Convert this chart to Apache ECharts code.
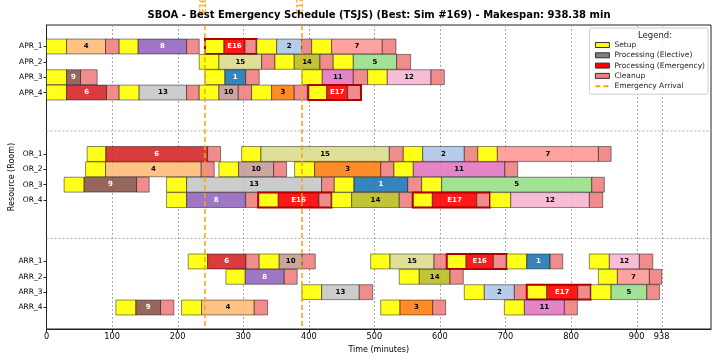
<!DOCTYPE html>
<html>
<head>
<meta charset="utf-8">
<title>SBOA - Best Emergency Schedule</title>
<script src="https://cdn.jsdelivr.net/npm/echarts@6/dist/echarts.min.js"></script>
<style>
  html, body { margin: 0; padding: 0; background: #fff; }
  #main { width: 715px; height: 357px; }
</style>
</head>
<body>
<div id="main"></div>
<script>
// rooms and the y value of each row (gaps between the stages)
const rooms = ['APR_1', 'APR_2', 'APR_3', 'APR_4', 'OR_1', 'OR_2', 'OR_3', 'OR_4', 'ARR_1', 'ARR_2', 'ARR_3', 'ARR_4']
const roomRows = [0, 1, 2, 3, 7, 8, 9, 10, 14, 15, 16, 17]
const stageBreaks = [5.5, 12.5]

const jobColors = {
  '1': '#1f77b4', '2': '#aec7e8', '3': '#ff7f0e', '4': '#ffbb78', '5': '#98df8a',
  '6': '#d62728', '7': '#ff9896', '8': '#9467bd', '9': '#8c564b', '10': '#c49c94',
  '11': '#e377c2', '12': '#f7b6d2', '13': '#c7c7c7', '14': '#bcbd22', '15': '#dbdb8d',
  'E16': '#ff0000', 'E17': '#ff0000'
}
const whiteText = ['1', '6', '8', '9', 'E16', 'E17']

// [room, job, setup start, processing start, cleanup start, end]
const aprOps = [
  ['APR_1', '4', 0, 30.6, 90.1, 110.8],
  ['APR_1', '8', 110.8, 139.8, 213.7, 232.9],
  ['APR_1', 'E16', 241.6, 270.6, 302.6, 320.5],
  ['APR_1', '2', 320.5, 351, 389.1, 404.4],
  ['APR_1', '7', 404.4, 434.9, 512.1, 533],
  ['APR_2', '15', 232.9, 262.9, 328.1, 348.4],
  ['APR_2', '14', 348.4, 377.8, 417, 437.3],
  ['APR_2', '5', 437.3, 467.9, 534.1, 555.4],
  ['APR_3', '9', 0, 30.6, 51.9, 77.3],
  ['APR_3', '1', 241.6, 272.1, 303.7, 324.4],
  ['APR_3', '11', 389.6, 420.6, 467.9, 489.8],
  ['APR_3', '12', 489.8, 519.7, 586.4, 606.7],
  ['APR_4', '6', 0, 30.6, 91.6, 110.8],
  ['APR_4', '13', 110.8, 141.3, 213.7, 232.9],
  ['APR_4', '10', 232.9, 262.9, 292.4, 312.8],
  ['APR_4', '3', 312.8, 343.3, 377.8, 397.7],
  ['APR_4', 'E17', 399.2, 427.3, 459.3, 479.6]
]
const orOps = [
  ['OR_1', '6', 62, 90.5, 245.7, 265.5],
  ['OR_1', '15', 297.6, 327, 522.8, 544.1],
  ['OR_1', '2', 544.1, 573.7, 637.2, 657.7],
  ['OR_1', '7', 657.7, 687.6, 841.7, 861.1],
  ['OR_2', '4', 59.6, 90.1, 235.9, 255.8],
  ['OR_2', '10', 262.9, 293, 346.4, 366.2],
  ['OR_2', '3', 378.4, 408.9, 509.7, 529.9],
  ['OR_2', '11', 529.9, 559.4, 698.9, 718.7],
  ['OR_3', '9', 26.9, 57.4, 137.4, 156.6],
  ['OR_3', '13', 183.1, 213.7, 419.6, 438.9],
  ['OR_3', '1', 438.9, 468.9, 550.9, 572.2],
  ['OR_3', '5', 572.2, 602.7, 831.6, 850.8],
  ['OR_4', '8', 183.1, 213.7, 303.7, 322.9],
  ['OR_4', 'E16', 322.9, 353.4, 415.5, 434.9],
  ['OR_4', '14', 434.9, 465.4, 538, 558.5],
  ['OR_4', 'E17', 558.5, 588.4, 656.1, 676.4],
  ['OR_4', '12', 676.4, 708, 827.9, 848.4]
]
const arrOps = [
  ['ARR_1', '6', 216.1, 245.7, 304.1, 324.4],
  ['ARR_1', '10', 324.4, 354.9, 390, 409.9],
  ['ARR_1', '15', 494.4, 523.9, 591, 610.4],
  ['ARR_1', 'E16', 610.4, 639.8, 681.5, 701.9],
  ['ARR_1', '1', 701.9, 732.4, 768, 787.4],
  ['ARR_1', '12', 827.9, 858.4, 904.2, 924.7],
  ['ARR_2', '8', 273.6, 303.1, 362.6, 382.4],
  ['ARR_2', '14', 538, 568.5, 615.4, 635.7],
  ['ARR_2', '7', 841.7, 870.7, 919.5, 938.4],
  ['ARR_3', '13', 389.6, 419.6, 477, 497.5],
  ['ARR_3', '2', 637.2, 667.7, 713.5, 732.4],
  ['ARR_3', 'E17', 732.4, 762.9, 810.2, 830.1],
  ['ARR_3', '5', 830.1, 861.1, 915.6, 934.8],
  ['ARR_4', '9', 105.8, 136.3, 174, 194.3],
  ['ARR_4', '4', 206, 236.5, 316.8, 337.2],
  ['ARR_4', '3', 509.7, 539.1, 589, 608.8],
  ['ARR_4', '11', 698.3, 728.8, 789.8, 809.7]
]

const arrivalNames = ['E16', 'E17']
const arrivalTimes = [241.6, 389.6]
const timeTicks = [0, 100, 200, 300, 400, 500, 600, 700, 800, 900, 938]
const makespan = 938.38

const Y_MIN = -1.4
const Y_MAX = 18.4
const X_MAX = makespan * 1.08
const alpha = echarts.color.modifyAlpha

const allOps = aprOps.concat(orOps, arrOps)

const myChart = echarts.init(document.getElementById('main'))

function renderOp(params, api) {
  const op = allOps[params.dataIndex]
  const row = api.value(0)
  const h = api.size([0, 1])[1] * 0.97
  const yc = api.coord([0, row])[1]
  const top = yc - h / 2
  const xs = [1, 2, 3, 4].map(i => api.coord([api.value(i), row])[0])
  const fills = ['#ffff00', jobColors[op[1]], '#f08080']
  const children = fills.map((c, i) => ({
    type: 'rect',
    shape: { x: xs[i], y: top, width: xs[i + 1] - xs[i], height: h },
    style: { fill: alpha(c, 0.9), stroke: 'rgba(0,0,0,0.45)', lineWidth: 1 }
  }))
  children.push({
    type: 'text',
    x: (xs[1] + xs[2]) / 2,
    y: yc,
    style: {
      text: op[1],
      fill: whiteText.indexOf(op[1]) >= 0 ? '#fff' : '#000',
      fontSize: 7, fontWeight: 'bold', fontFamily: 'DejaVu Sans',
      align: 'center', verticalAlign: 'middle'
    }
  })
  // emergency jobs get a dark red frame round the whole block
  if (op[1].charAt(0) === 'E') {
    children.push({
      type: 'rect',
      shape: { x: xs[0], y: top, width: xs[3] - xs[0], height: h },
      style: { fill: 'none', stroke: '#b00000', lineWidth: 2 }
    })
  }
  return { type: 'group', children: children }
}

// grid lines (kind 0, vertical at time ticks) and stage separators (kind 1)
function renderGuide(params, api) {
  let a, b
  if (api.value(2) === 0) {
    a = api.coord([api.value(0), Y_MIN])
    b = api.coord([api.value(0), Y_MAX])
    // snap to the pixel grid so the thin dotted line stays crisp
    a[0] = b[0] = Math.round(a[0]) + 0.5
  } else {
    a = api.coord([0, api.value(1)])
    b = api.coord([X_MAX, api.value(1)])
  }
  return {
    type: 'line',
    shape: { x1: a[0], y1: a[1], x2: b[0], y2: b[1] },
    style: { stroke: '#a8a8a8', lineWidth: 1, lineDash: [2, 2] }
  }
}

myChart.setOption({
  animation: false,
  title: {
    text: 'SBOA - Best Emergency Schedule (TSJS) (Best: Sim #169) - Makespan: ' + makespan.toFixed(2) + ' min',
    left: 379, textAlign: 'center', top: 10, padding: 0,
    textStyle: { fontSize: 10, fontWeight: 'bold', color: '#000', fontFamily: 'DejaVu Sans' }
  },
  grid: {
    left: 46.5, right: 4, top: 25, bottom: 28,
    outerBoundsMode: 'none',
    show: true, borderColor: '#222', borderWidth: 1
  },
  legend: {
    orient: 'vertical',
    right: 7, top: 28,
    padding: [12, 3, 3, 5],
    backgroundColor: 'rgba(255,255,255,0.85)',
    borderColor: '#ccc', borderWidth: 1, borderRadius: 2,
    itemWidth: 14, itemHeight: 5, itemGap: 0.3,
    textStyle: { fontSize: 7.5, color: '#222', fontFamily: 'DejaVu Sans', lineHeight: 10 },
    data: [
      { name: 'Setup', icon: 'rect', itemStyle: { color: '#ffff00', borderColor: '#333', borderWidth: 1 } },
      { name: 'Processing (Elective)', icon: 'rect', itemStyle: { color: '#808080', borderColor: '#333', borderWidth: 1 } },
      { name: 'Processing (Emergency)', icon: 'rect', itemStyle: { color: '#ff0000', borderColor: '#333', borderWidth: 1 } },
      { name: 'Cleanup', icon: 'rect', itemStyle: { color: '#f08080', borderColor: '#333', borderWidth: 1 } },
      { name: 'Emergency Arrival', itemStyle: { opacity: 0 } }
    ]
  },
  graphic: [{
    type: 'text', left: 638, top: 31, z: 100,
    style: { text: 'Legend:', fontSize: 8.5, fill: '#222', fontFamily: 'DejaVu Sans' }
  }],
  xAxis: {
    type: 'value', min: 0, max: X_MAX,
    name: 'Time (minutes)', nameLocation: 'middle', nameGap: 17, nameMoveOverlap: false,
    nameTextStyle: { fontSize: 8, color: '#000', fontFamily: 'DejaVu Sans' },
    axisLine: { show: true, onZero: false, lineStyle: { color: '#222', width: 1 } },
    axisTick: { show: true, length: 3, customValues: timeTicks, lineStyle: { color: '#222' } },
    axisLabel: { customValues: timeTicks, fontSize: 8.2, color: '#000', margin: 4, fontFamily: 'DejaVu Sans' },
    splitLine: { show: false }
  },
  yAxis: {
    type: 'value', inverse: true, min: Y_MIN, max: Y_MAX,
    name: 'Resource (Room)', nameLocation: 'middle', nameGap: 31, nameMoveOverlap: false,
    nameTextStyle: { fontSize: 8, color: '#000', fontFamily: 'DejaVu Sans' },
    axisLine: { show: true, onZero: false, lineStyle: { color: '#222', width: 1 } },
    axisTick: { show: true, length: 3, customValues: roomRows, lineStyle: { color: '#222' } },
    axisLabel: {
      customValues: roomRows, fontSize: 7.5, color: '#000', margin: 4, fontFamily: 'DejaVu Sans',
      formatter: v => rooms[roomRows.indexOf(v)]
    },
    splitLine: { show: false }
  },
  series: [
    {
      type: 'custom', silent: true, z: 1, clip: false,
      data: timeTicks.slice(1).map(t => [t, 0, 0]).concat(stageBreaks.map(y => [0, y, 1])),
      renderItem: renderGuide
    },
    {
      type: 'custom', z: 2,
      data: allOps.map(op => [roomRows[rooms.indexOf(op[0])], op[2], op[3], op[4], op[5]]),
      encode: { x: [1, 2, 3, 4], y: 0 },
      renderItem: renderOp
    },
    {
      // emergency arrival lines with their labels above the plot
      type: 'custom', silent: true, z: 5, clip: false,
      data: arrivalTimes.map(t => [t, 0]),
      renderItem: (params, api) => {
        const a = api.coord([api.value(0), Y_MIN])
        const b = api.coord([api.value(0), Y_MAX])
        return {
          type: 'group',
          children: [{
            type: 'line', shape: { x1: a[0], y1: a[1], x2: b[0], y2: b[1] },
            style: { stroke: 'rgba(255,165,0,0.85)', lineWidth: 1.8, lineDash: [5, 3] }
          }, {
            type: 'text', x: a[0] - 1, y: 14, rotation: Math.PI / 2,
            style: {
              text: arrivalNames[params.dataIndex], fill: 'rgba(255,165,0,0.85)',
              fontSize: 8, fontWeight: 'bold', fontFamily: 'DejaVu Sans',
              align: 'left', verticalAlign: 'middle'
            }
          }]
        }
      }
    },
    { name: 'Setup', type: 'bar', data: [], itemStyle: { color: '#ffff00' } },
    { name: 'Processing (Elective)', type: 'bar', data: [], itemStyle: { color: '#808080' } },
    { name: 'Processing (Emergency)', type: 'bar', data: [], itemStyle: { color: '#ff0000' } },
    { name: 'Cleanup', type: 'bar', data: [], itemStyle: { color: '#f08080' } },
    {
      name: 'Emergency Arrival', type: 'line', data: [], symbol: 'none',
      itemStyle: { color: '#ffa500' },
      lineStyle: { color: '#ffa500', type: [5, 3], width: 1.8 }
    }
  ]
})
</script>
</body>
</html>
